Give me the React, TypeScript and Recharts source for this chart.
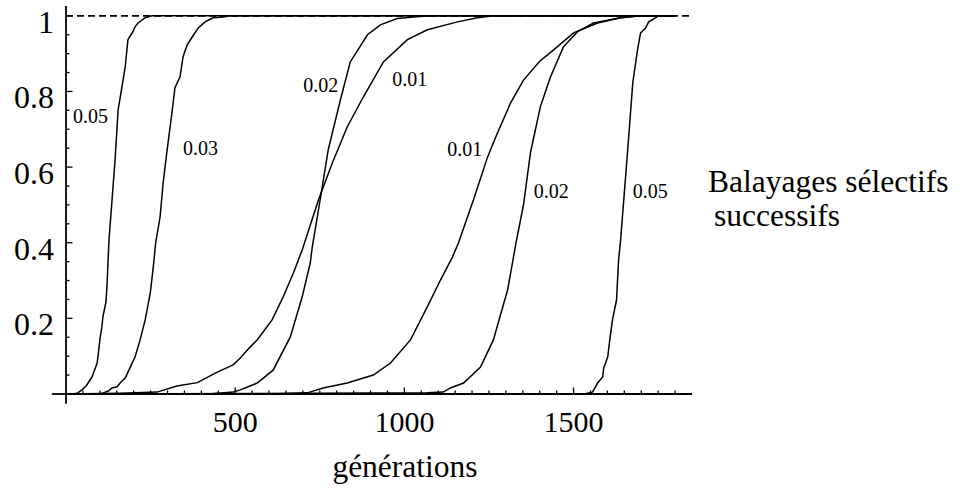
import React from 'react';
import { LineChart, Line, XAxis, YAxis, ReferenceLine, ReferenceDot } from 'recharts';

// ---- data (generations, frequency) ----
const sweepLeft005: [number, number][] = [
  [0, 0], [20, 0], [35, 0.003], [47, 0.011], [60, 0.022], [71, 0.037], [77, 0.045], [85, 0.065],
  [92, 0.082], [95, 0.103], [101, 0.15], [106, 0.177], [109, 0.204], [118, 0.243], [121, 0.283],
  [127, 0.407], [139, 0.548], [145, 0.619], [154, 0.751], [160, 0.783], [175, 0.865], [183, 0.937],
  [192, 0.95], [198, 0.958], [204, 0.971], [213, 0.981], [234, 0.995], [254, 1], [1800, 1],
];
const sweepLeft003: [number, number][] = [
  [0, 0], [95, 0], [110, 0.003], [125, 0.008], [136, 0.016], [151, 0.019], [160, 0.029], [175, 0.042],
  [189, 0.069], [204, 0.098], [219, 0.143], [234, 0.196], [249, 0.267], [258, 0.336], [265, 0.4],
  [278, 0.468], [287, 0.558], [299, 0.646], [313, 0.743], [322, 0.81], [337, 0.839], [346, 0.892],
  [358, 0.923], [373, 0.944], [391, 0.968], [411, 0.984], [435, 0.995], [464, 0.997], [485, 1], [1800, 1],
];
const sweepMid001: [number, number][] = [
  [0, 0], [160, 0.002], [269, 0.005], [328, 0.021], [388, 0.03], [447, 0.058], [494, 0.077], [515, 0.095],
  [544, 0.124], [565, 0.143], [609, 0.196], [642, 0.257], [672, 0.32], [698, 0.381], [746, 0.513],
  [787, 0.611], [831, 0.706], [879, 0.786], [938, 0.878], [1009, 0.937], [1068, 0.963], [1157, 0.984],
  [1216, 0.995], [1263, 1], [1800, 1],
];
const sweepMid002: [number, number][] = [
  [0, 0], [420, 0], [494, 0.005], [515, 0.011], [538, 0.019], [565, 0.029], [612, 0.063], [663, 0.151],
  [698, 0.257], [722, 0.347], [728, 0.39], [751, 0.513], [775, 0.646], [811, 0.778], [840, 0.878],
  [891, 0.95], [929, 0.976], [979, 0.993], [1027, 0.997], [1077, 1], [1800, 1],
];
const sweepRight001: [number, number][] = [
  [0, 0], [612, 0], [713, 0.003], [760, 0.016], [831, 0.029], [908, 0.05], [959, 0.082], [1018, 0.143],
  [1068, 0.231], [1107, 0.302], [1142, 0.362], [1160, 0.4], [1204, 0.513], [1246, 0.627], [1275, 0.69],
  [1314, 0.77], [1352, 0.83], [1400, 0.88], [1441, 0.91], [1500, 0.955], [1571, 0.981], [1639, 0.995],
  [1698, 1], [1800, 1],
];
const sweepRight002: [number, number][] = [
  [0, 0], [1068, 0.003], [1115, 0.005], [1136, 0.016], [1175, 0.029], [1225, 0.071], [1263, 0.143],
  [1305, 0.275], [1330, 0.4], [1352, 0.5], [1373, 0.64], [1402, 0.76], [1432, 0.839], [1470, 0.918],
  [1512, 0.958], [1559, 0.981], [1639, 0.995], [1698, 1], [1800, 1],
];
const sweepRight005: [number, number][] = [
  [0, 0], [1530, 0], [1556, 0.005], [1571, 0.029], [1586, 0.045], [1589, 0.069], [1601, 0.098],
  [1607, 0.143], [1615, 0.196], [1627, 0.249], [1633, 0.354], [1639, 0.407], [1660, 0.646],
  [1675, 0.823], [1689, 0.91], [1698, 0.955], [1713, 0.968], [1722, 0.984], [1743, 0.995], [1751, 1], [1800, 1],
];

const curves = [sweepLeft005, sweepLeft003, sweepMid001, sweepMid002, sweepRight001, sweepRight002, sweepRight005];

// curve labels (text, generation, frequency of the text baseline-left)
const curveLabelText = ['0.05', '0.03', '0.02', '0.01', '0.01', '0.02', '0.05'];
const curveLabelGen = [21, 346, 701, 964, 1127, 1382, 1675];
const curveLabelVal = [0.717, 0.632, 0.799, 0.815, 0.63, 0.519, 0.519];

// ticks
const xTickLabels = [500, 1000, 1500];
const xAllTicks = [
  50, 100, 150, 200, 250, 300, 350, 400, 450, 500, 550, 600, 650, 700, 750, 800, 850, 900, 950, 1000,
  1050, 1100, 1150, 1200, 1250, 1300, 1350, 1400, 1450, 1500, 1550, 1600, 1650, 1700, 1750, 1800,
];
const yTickLabels = [0.2, 0.4, 0.6, 0.8, 1];
const yAllTicks = [
  0.05, 0.1, 0.15, 0.2, 0.25, 0.3, 0.35, 0.4, 0.45, 0.5, 0.55, 0.6, 0.65, 0.7, 0.75, 0.8, 0.85, 0.9, 0.95, 1,
];

const xAxisTitle = 'générations';
const sideTitle = ['Balayages sélectifs', 'successifs'];

const X_DOMAIN: [number, number] = [0, 1850];
const Y_DOMAIN: [number, number] = [0, 1.026];
const X_AXIS_START = -42; // axis line runs a little left of the origin
const Y_AXIS_START = -0.026; // and a little below it

const FONT = '"Liberation Serif", "Times New Roman", Times, serif';

const XTick = (props: any) => {
  const { x, y, payload } = props;
  const major = xTickLabels.includes(payload.value);
  return (
    <g>
      <line x1={x} y1={y} x2={x} y2={y - (major ? 6.5 : 3.5)} stroke="#000" strokeWidth={1.3} />
      {major && (
        <text x={x} y={y + 38} textAnchor="middle" fontFamily={FONT} fontSize={30} fill="#000">
          {payload.value}
        </text>
      )}
    </g>
  );
};

const YTick = (props: any) => {
  const { x, y, payload } = props;
  const major = yTickLabels.some((v) => Math.abs(v - payload.value) < 1e-9);
  return (
    <g>
      <line x1={x} y1={y} x2={x + (major ? 6.5 : 3.5)} y2={y} stroke="#000" strokeWidth={1.3} />
      {major && (
        <text x={x - 12} y={y + 17} textAnchor="end" fontFamily={FONT} fontSize={32} fill="#000">
          {String(payload.value)}
        </text>
      )}
    </g>
  );
};

const labelShape = (text: string) => (p: any) => (
  <text x={p.cx} y={p.cy} fontFamily={FONT} fontSize={20} fill="#000">
    {text}
  </text>
);

export default function App() {
  const series = curves.map((c) => c.map(([g, v]) => ({ g, v })));
  return (
    <div style={{ position: 'absolute', left: 0, top: 0, width: 960, height: 491, background: '#fff' }}>
      <LineChart width={960} height={491} margin={{ top: 6, right: 268, bottom: 37, left: 6 }}>
        <XAxis
          type="number"
          dataKey="g"
          scale="linear"
          domain={X_DOMAIN}
          allowDataOverflow
          ticks={xAllTicks}
          interval={0}
          axisLine={{ stroke: '#000', strokeWidth: 1.8 }}
          tickLine={false}
          tickSize={0}
          tickMargin={0}
          height={60}
          tick={<XTick />}
        />
        <YAxis
          type="number"
          dataKey="v"
          scale="linear"
          domain={Y_DOMAIN}
          allowDataOverflow
          ticks={yAllTicks}
          interval={0}
          axisLine={{ stroke: '#000', strokeWidth: 1.8 }}
          tickLine={false}
          tickSize={0}
          tickMargin={0}
          width={60}
          tick={<YTick />}
        />
        <ReferenceLine
          segment={[{ x: X_AXIS_START, y: 0 }, { x: 0, y: 0 }]}
          ifOverflow="visible"
          stroke="#000"
          strokeWidth={1.8}
        />
        <ReferenceLine
          segment={[{ x: 0, y: Y_AXIS_START }, { x: 0, y: 0 }]}
          ifOverflow="visible"
          stroke="#000"
          strokeWidth={1.8}
        />
        <ReferenceLine
          segment={[{ x: 0, y: 1 }, { x: 1850, y: 1 }]}
          stroke="#000"
          strokeWidth={1.8}
          strokeDasharray="7 4"
        />
        {series.map((d, i) => (
          <Line
            key={'c' + i}
            data={d}
            dataKey="v"
            type="linear"
            stroke="#000"
            strokeWidth={1.5}
            dot={false}
            isAnimationActive={false}
          />
        ))}
        {curveLabelText.map((t, i) => (
          <ReferenceDot key={'l' + i} x={curveLabelGen[i]} y={curveLabelVal[i]} shape={labelShape(t)} />
        ))}
      </LineChart>
      <svg width={960} height={491} style={{ position: 'absolute', left: 0, top: 0, pointerEvents: 'none' }}>
        <text x={405} y={477} textAnchor="middle" fontFamily={FONT} fontSize={31.5} fill="#000">
          {xAxisTitle}
        </text>
        <text x={708} y={192} fontFamily={FONT} fontSize={31.5} fill="#000">
          {sideTitle[0]}
        </text>
        <text x={714} y={226} fontFamily={FONT} fontSize={31.5} fill="#000">
          {sideTitle[1]}
        </text>
      </svg>
    </div>
  );
}
